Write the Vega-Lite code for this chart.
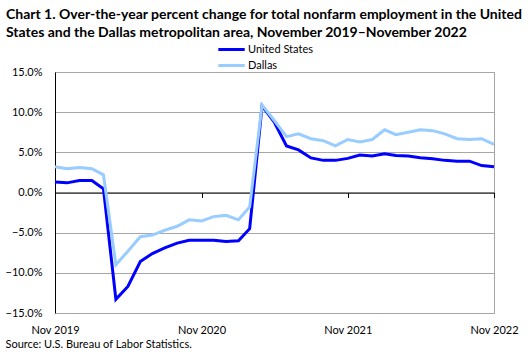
{
  "$schema": "https://vega.github.io/schema/vega-lite/v6.json",
  "width": 439,
  "height": 241,
  "autosize": {"type": "none"},
  "padding": {"left": 55, "top": 72, "right": 34, "bottom": 41},
  "background": "white",
  "title": {
    "text": ["Chart 1. Over-the-year percent change for total nonfarm employment in the United", "States and the Dallas metropolitan area, November 2019\u2013November 2022"],
    "anchor": "start",
    "frame": "group",
    "dx": -49,
    "dy": 2,
    "font": "Lato",
    "fontSize": 14,
    "fontWeight": "bold",
    "color": "black",
    "lineHeight": 18
  },
  "config": {
    "view": {"stroke": "#A6A6A6", "strokeWidth": 1},
    "axis": {"labelFont": "Lato", "labelFontSize": 11, "labelColor": "black", "titleFont": "Lato", "titleFontSize": 11, "titleColor": "black", "titleFontWeight": "normal"}
  },
  "data": {
    "values": [
      {"month": "2019-11", "series": "United States", "value": 1.32},
      {"month": "2019-12", "series": "United States", "value": 1.2},
      {"month": "2020-01", "series": "United States", "value": 1.49},
      {"month": "2020-02", "series": "United States", "value": 1.49},
      {"month": "2020-03", "series": "United States", "value": 0.45},
      {"month": "2020-04", "series": "United States", "value": -13.3},
      {"month": "2020-05", "series": "United States", "value": -11.7},
      {"month": "2020-06", "series": "United States", "value": -8.6},
      {"month": "2020-07", "series": "United States", "value": -7.6},
      {"month": "2020-08", "series": "United States", "value": -6.9},
      {"month": "2020-09", "series": "United States", "value": -6.3},
      {"month": "2020-10", "series": "United States", "value": -5.95},
      {"month": "2020-11", "series": "United States", "value": -5.95},
      {"month": "2020-12", "series": "United States", "value": -5.95},
      {"month": "2021-01", "series": "United States", "value": -6.1},
      {"month": "2021-02", "series": "United States", "value": -6.0},
      {"month": "2021-03", "series": "United States", "value": -4.5},
      {"month": "2021-04", "series": "United States", "value": 10.8},
      {"month": "2021-05", "series": "United States", "value": 8.8},
      {"month": "2021-06", "series": "United States", "value": 5.8},
      {"month": "2021-07", "series": "United States", "value": 5.3},
      {"month": "2021-08", "series": "United States", "value": 4.3},
      {"month": "2021-09", "series": "United States", "value": 4.0},
      {"month": "2021-10", "series": "United States", "value": 4.0},
      {"month": "2021-11", "series": "United States", "value": 4.25},
      {"month": "2021-12", "series": "United States", "value": 4.67},
      {"month": "2022-01", "series": "United States", "value": 4.55},
      {"month": "2022-02", "series": "United States", "value": 4.83},
      {"month": "2022-03", "series": "United States", "value": 4.6},
      {"month": "2022-04", "series": "United States", "value": 4.55},
      {"month": "2022-05", "series": "United States", "value": 4.34},
      {"month": "2022-06", "series": "United States", "value": 4.2},
      {"month": "2022-07", "series": "United States", "value": 4.0},
      {"month": "2022-08", "series": "United States", "value": 3.9},
      {"month": "2022-09", "series": "United States", "value": 3.9},
      {"month": "2022-10", "series": "United States", "value": 3.35},
      {"month": "2022-11", "series": "United States", "value": 3.2},
      {"month": "2019-11", "series": "Dallas", "value": 3.2},
      {"month": "2019-12", "series": "Dallas", "value": 2.97},
      {"month": "2020-01", "series": "Dallas", "value": 3.1},
      {"month": "2020-02", "series": "Dallas", "value": 2.97},
      {"month": "2020-03", "series": "Dallas", "value": 2.2},
      {"month": "2020-04", "series": "Dallas", "value": -9.0},
      {"month": "2020-05", "series": "Dallas", "value": -7.3},
      {"month": "2020-06", "series": "Dallas", "value": -5.5},
      {"month": "2020-07", "series": "Dallas", "value": -5.3},
      {"month": "2020-08", "series": "Dallas", "value": -4.7},
      {"month": "2020-09", "series": "Dallas", "value": -4.2},
      {"month": "2020-10", "series": "Dallas", "value": -3.4},
      {"month": "2020-11", "series": "Dallas", "value": -3.55},
      {"month": "2020-12", "series": "Dallas", "value": -3.0},
      {"month": "2021-01", "series": "Dallas", "value": -2.85},
      {"month": "2021-02", "series": "Dallas", "value": -3.4},
      {"month": "2021-03", "series": "Dallas", "value": -1.8},
      {"month": "2021-04", "series": "Dallas", "value": 10.9},
      {"month": "2021-05", "series": "Dallas", "value": 9.0},
      {"month": "2021-06", "series": "Dallas", "value": 6.95},
      {"month": "2021-07", "series": "Dallas", "value": 7.3},
      {"month": "2021-08", "series": "Dallas", "value": 6.7},
      {"month": "2021-09", "series": "Dallas", "value": 6.45},
      {"month": "2021-10", "series": "Dallas", "value": 5.8},
      {"month": "2021-11", "series": "Dallas", "value": 6.6},
      {"month": "2021-12", "series": "Dallas", "value": 6.3},
      {"month": "2022-01", "series": "Dallas", "value": 6.6},
      {"month": "2022-02", "series": "Dallas", "value": 7.8},
      {"month": "2022-03", "series": "Dallas", "value": 7.2},
      {"month": "2022-04", "series": "Dallas", "value": 7.5},
      {"month": "2022-05", "series": "Dallas", "value": 7.8},
      {"month": "2022-06", "series": "Dallas", "value": 7.7},
      {"month": "2022-07", "series": "Dallas", "value": 7.3},
      {"month": "2022-08", "series": "Dallas", "value": 6.7},
      {"month": "2022-09", "series": "Dallas", "value": 6.6},
      {"month": "2022-10", "series": "Dallas", "value": 6.7},
      {"month": "2022-11", "series": "Dallas", "value": 6.0}
    ]
  },
  "mark": {"type": "line", "strokeWidth": 3},
  "encoding": {
    "x": {
      "field": "month",
      "type": "temporal",
      "scale": {"type": "utc", "domain": [{"year": 2019, "month": 11, "date": 1, "utc": true}, {"year": 2022, "month": 11, "date": 1, "utc": true}], "nice": false},
      "axis": {
        "orient": "bottom",
        "offset": -120.5,
        "values": [{"year": 2019, "month": 11, "date": 1, "utc": true}, {"year": 2020, "month": 11, "date": 1, "utc": true}, {"year": 2021, "month": 11, "date": 1, "utc": true}, {"year": 2022, "month": 11, "date": 1, "utc": true}],
        "format": "%b %Y",
        "grid": false,
        "domainColor": "black",
        "tickColor": "black",
        "tickSize": 5,
        "labelPadding": 127,
        "labelFlush": false,
        "labelOverlap": false,
        "title": "Source: U.S. Bureau of Labor Statistics.",
        "titleAnchor": "start",
        "titleAlign": "left",
        "titleBaseline": "top",
        "titleX": -50,
        "titleY": 146
      }
    },
    "y": {
      "field": "value",
      "type": "quantitative",
      "scale": {"domain": [-15, 15], "nice": false},
      "axis": {
        "values": [-15, -10, -5, 0, 5, 10, 15],
        "labelExpr": "format(datum.value, '.1f') + '%'",
        "domainColor": "black",
        "ticks": false,
        "labelPadding": 13,
        "gridColor": "#A6A6A6",
        "title": null
      }
    },
    "color": {
      "field": "series",
      "type": "nominal",
      "sort": ["United States", "Dallas"],
      "scale": {"domain": ["United States", "Dallas"], "range": ["#0000FF", "#99CCFF"]},
      "legend": {
        "orient": "none",
        "legendX": 169,
        "legendY": -30,
        "title": null,
        "symbolType": "M-2.2,0H2.2",
        "symbolStrokeWidth": 3,
        "symbolSize": 144,
        "labelFont": "Lato",
        "labelFontSize": 11,
        "labelColor": "black",
        "labelOffset": 9,
        "rowPadding": 2
      }
    }
  }
}
